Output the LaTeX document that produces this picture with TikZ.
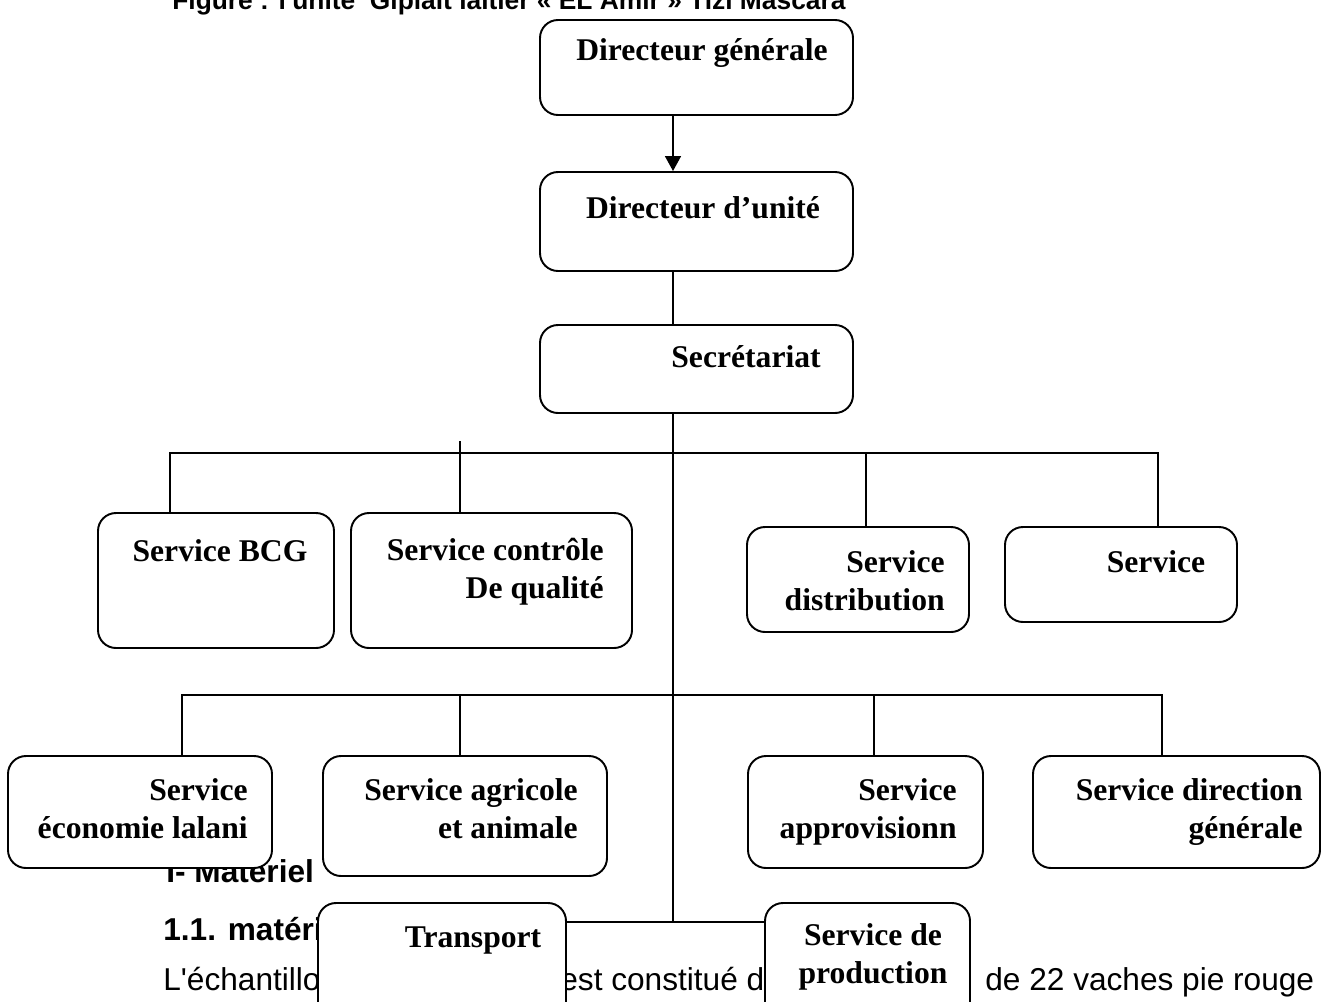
\documentclass[tikz,border=0pt]{standalone}
\usepackage{fontspec}
\setmainfont{Liberation Serif}
\newfontfamily\arialfont{Liberation Sans}
\usetikzlibrary{arrows.meta,fit}

\tikzset{
  unit/.style={draw, line width=1.1pt, rounded corners=0.36cm, fill=white, inner sep=0pt},
  txt/.style={font=\fontsize{18}{21.6}\selectfont\bfseries, inner sep=0pt},
  page/.style={font=\arialfont\fontsize{18}{21.6}\selectfont, inner sep=0pt, anchor=base west},
  pagebf/.style={page, font=\arialfont\bfseries\fontsize{18}{21.6}\selectfont},
  link/.style={line width=1.1pt}
}

\begin{document}
\begin{tikzpicture}[x=0.02cm, y=-0.02cm]
\useasboundingbox (0,0) rectangle (1322,1001);
\clip (0,0) rectangle (1322,1001);

% texte de la page
\node[pagebf, font=\arialfont\bfseries\fontsize{15}{18}\selectfont] (titre) at (172,9)
  {Figure : l\textquotesingle unité\ \ Giplait laitier « EL Amir » Tizi Mascara};
\node[pagebf] (mat) at (166,882) {I- Matériel};
\node[pagebf] (mat11) at (163,940) {1.1. matéri};
\node[page] (ech1) at (163,990) {L\textquotesingle échantillo};
\node[page] (ech2) at (560,990) {est constitué d};
\node[page] (ech3) at (985,990) {de 22 vaches pie rouge};

% boites
\node[unit, fit={(540,20) (853,115)}] (dg) {};
\node[unit, fit={(540,172) (853,271)}] (du) {};
\node[unit, fit={(540,325) (853,413)}] (sec) {};
\node[unit, fit={(98,513) (334,648)}] (bcg) {};
\node[unit, fit={(351,513) (632,648)}] (qual) {};
\node[unit, fit={(747,527) (969,632)}] (dist) {};
\node[unit, fit={(1005,527) (1237,622)}] (serv) {};
\node[unit, fit={(8,756) (272,868)}] (eco) {};
\node[unit, fit={(323,756) (607,876)}] (agri) {};
\node[unit, fit={(748,756) (983,868)}] (appro) {};
\node[unit, fit={(1033,756) (1320,868)}] (dirg) {};
\node[unit, fit={(318,903) (566,1040)}] (trans) {};
\node[unit, fit={(765,903) (970,1040)}] (prod) {};

% liaisons
\coordinate (axe) at (673,0);
\coordinate (bus3) at (673,922);
\draw[link, -{Triangle[length=8.5pt,width=9pt]}] (axe |- dg.south) -- (axe |- du.north);
\draw[link] (axe |- du.south) -- (axe |- sec.north);
\draw[link] (axe |- sec.south) -- (bus3);

\coordinate (h1a) at (170,453);
\coordinate (h1b) at (460,441);
\coordinate (h1c) at (866,453);
\coordinate (h1d) at (1158,453);
\draw[link] (h1a |- bcg.north) -- (h1a) -- (h1d) -- (h1d |- serv.north);
\draw[link] (h1b) -- (h1b |- qual.north);
\draw[link] (h1c) -- (h1c |- dist.north);

\coordinate (h2a) at (182,695);
\coordinate (h2b) at (460,695);
\coordinate (h2c) at (874,695);
\coordinate (h2d) at (1162,695);
\draw[link] (h2a |- eco.north) -- (h2a) -- (h2d) -- (h2d |- dirg.north);
\draw[link] (h2b) -- (h2b |- agri.north);
\draw[link] (h2c) -- (h2c |- appro.north);

\draw[link] (trans.east |- bus3) -- (prod.west |- bus3);

% textes des boites
\node[txt, anchor=base] (dg-t) at (702,60) {Directeur générale};
\node[txt, anchor=base] (du-t) at (703,218) {Directeur d'unité};
\node[txt, anchor=base east] (sec-t) at (821,367) {Secrétariat};
\node[txt, anchor=base] (bcg-t) at (220,561) {Service BCG};
\node[txt, align=right, anchor=base east] (qual-t) at (604,598) {Service contrôle\\De qualité};
\node[txt, align=right, anchor=base east] (dist-t) at (945,610) {Service\\distribution};
\node[txt, anchor=base] (serv-t) at (1156,572) {Service};
\node[txt, align=right, anchor=base east] (eco-t) at (248,838) {Service\\économie lalani};
\node[txt, align=right, anchor=base east] (agri-t) at (578,838) {Service agricole\\et animale};
\node[txt, align=right, anchor=base east] (appro-t) at (957,838) {Service\\approvisionn};
\node[txt, align=right, anchor=base east] (dirg-t) at (1303,838) {Service direction\\générale};
\node[txt, anchor=base] (trans-t) at (473,947) {Transport};
\node[txt, align=center, anchor=base] (prod-t) at (873,983) {Service de\\production};
\end{tikzpicture}
\end{document}
